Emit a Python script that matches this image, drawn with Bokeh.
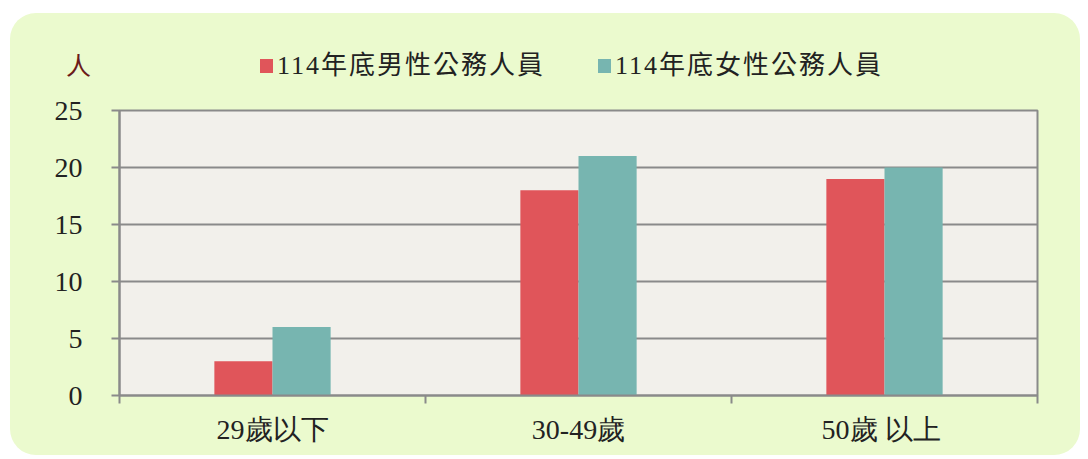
from bokeh.plotting import figure
from bokeh.models import ColumnDataSource, FixedTicker, Range1d, Div
from bokeh.layouts import column
from bokeh.transform import dodge
from bokeh.embed import file_html
from bokeh.resources import INLINE

categories = ["29歲以下", "30-49歲", "50歲  以上"]
male = [3, 18, 19]
female = [6, 21, 20]
series_names = ["114年底男性公務人員", "114年底女性公務人員"]
y_ticks = [0, 5, 10, 15, 20, 25]
unit_label = "人"

FONT = "Liberation Serif"
GRAY = "#8a8a8a"
RED = "#e0555a"
TEAL = "#77b5b0"
colors = [RED, TEAL]

# ---------- header (unit label + legend) ----------
item_left = [250, 588]
items_html = "".join(
    f'<div style="position:absolute;left:{x}px;top:38px;height:29px;'
    f'display:flex;align-items:center;font-size:26px;line-height:1;'
    f'letter-spacing:2px;color:#222222;white-space:nowrap;">'
    f'<span style="display:inline-block;width:13px;height:14px;'
    f'background:{c};margin-right:4px;"></span>{name}</div>'
    for x, c, name in zip(item_left, colors, series_names))
header_html = (
    '<div style="position:relative;width:1070px;height:81px;'
    "font-family:'Liberation Serif','Noto Sans CJK TC',serif;\">"
    f'<span style="position:absolute;left:56px;top:41px;font-size:25px;'
    f'line-height:1;color:#6b1a1a;">{unit_label}</span>'
    f'{items_html}</div>')
header = Div(text=header_html, width=1070, height=81, margin=0)

# ---------- chart ----------
centers = [i + 0.5 for i in range(len(categories))]
boundaries = [float(i) for i in range(len(categories) + 1)]
src = ColumnDataSource(dict(x=centers, male=male, female=female))

p = figure(width=1070, height=361, output_backend="svg", toolbar_location=None,
           x_range=Range1d(0, len(categories)), y_range=Range1d(0, 25),
           min_border_left=109, min_border_right=43, min_border_top=16,
           min_border_bottom=60, margin=0)
p.border_fill_alpha = 0
p.background_fill_color = "#f2f0eb"
p.outline_line_color = GRAY
p.outline_line_width = 2

bw = 0.19
p.vbar(x=dodge("x", -bw / 2), top="male", width=bw, source=src,
       fill_color=RED, line_color=None)
p.vbar(x=dodge("x", bw / 2), top="female", width=bw, source=src,
       fill_color=TEAL, line_color=None)

# x axis: labels at category centres, tick marks at boundaries
xa = p.xaxis[0]
xa.ticker = FixedTicker(ticks=centers, minor_ticks=boundaries)
xa.major_label_overrides = {c: lab for c, lab in zip(centers, categories)}
xa.major_tick_out = 0
xa.major_tick_in = 0
xa.minor_tick_out = 8
xa.minor_tick_in = 0
xa.minor_tick_line_color = GRAY
xa.minor_tick_line_width = 2
xa.axis_line_color = GRAY
xa.axis_line_width = 2
xa.major_label_text_font = FONT
xa.major_label_text_font_size = "28px"
xa.major_label_text_color = "#222222"
xa.major_label_standoff = 10

ya = p.yaxis[0]
ya.ticker = FixedTicker(ticks=y_ticks)
ya.major_tick_out = 8
ya.major_tick_in = 0
ya.major_tick_line_color = GRAY
ya.major_tick_line_width = 2
ya.minor_tick_line_color = None
ya.axis_line_color = GRAY
ya.axis_line_width = 2
ya.major_label_text_font = FONT
ya.major_label_text_font_size = "28px"
ya.major_label_text_color = "#222222"
ya.major_label_standoff = 29

p.xgrid.grid_line_color = None
p.ygrid.grid_line_color = GRAY
p.ygrid.grid_line_width = 2
p.ygrid.ticker = FixedTicker(ticks=y_ticks)

layout = column(header, p, spacing=0)
layout.styles = {"background-color": "#ebface", "border-radius": "26px",
                 "margin-left": "10px", "margin-top": "13px"}

open("out.html", "w").write(file_html(layout, INLINE))
